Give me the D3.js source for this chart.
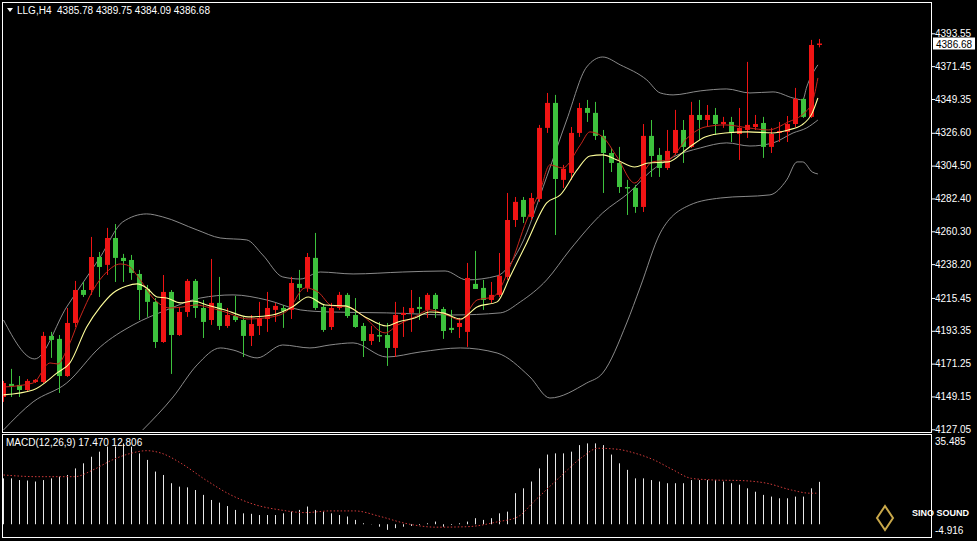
<!DOCTYPE html>
<html><head><meta charset="utf-8">
<script src="https://cdn.jsdelivr.net/npm/d3@7"></script>
<style>body{margin:0;background:#000;overflow:hidden}svg{display:block}text{font-family:"Liberation Sans",Arial,sans-serif}</style>
</head><body><svg id="c" width="977" height="541"></svg>
<script>
// OHLC candles (red = rising, green = falling)
const candles = [
[4148.8,4159.6,4145.5,4158.2],[4157.6,4167.7,4148.8,4156.2],[4156.9,4162.9,4148.8,4153.5],[4153.5,4160.9,4152.2,4159.6],
[4158.9,4160.9,4158.2,4160.3],[4158.9,4192.6,4158.2,4189.9],[4189.9,4192.6,4175.1,4187.2],[4187.9,4190.5,4151.5,4162.9],
[4162.9,4208.7,4162.3,4198.6],[4198.6,4226.9,4195.9,4220.8],[4220.8,4226.2,4216.1,4217.5],[4220.8,4256.5,4217.5,4243.0],
[4243.0,4246.4,4216.1,4236.3],[4237.7,4262.6,4230.9,4255.8],[4255.8,4265.2,4226.2,4242.4],[4242.4,4245.1,4226.2,4240.3],
[4241.0,4244.4,4227.6,4232.3],[4231.6,4234.3,4200.6,4220.8],[4221.5,4224.2,4202.7,4212.8],[4212.8,4215.4,4181.8,4185.8],
[4185.8,4230.9,4185.2,4219.5],[4219.5,4220.8,4164.3,4190.5],[4190.5,4209.4,4189.9,4206.0],[4206.0,4228.2,4202.7,4226.9],
[4226.9,4228.2,4202.0,4208.7],[4208.7,4214.1,4188.5,4199.3],[4200.6,4241.7,4197.3,4212.1],[4212.1,4229.6,4193.9,4196.6],
[4196.6,4208.7,4195.3,4204.0],[4203.3,4216.8,4199.3,4200.6],[4200.6,4202.7,4175.7,4189.9],[4189.9,4204.0,4183.1,4197.9],
[4196.6,4212.8,4190.5,4202.0],[4201.3,4219.5,4192.6,4208.7],[4207.4,4212.1,4199.3,4210.1],[4208.7,4210.7,4195.3,4206.7],
[4207.4,4229.6,4201.3,4225.5],[4224.9,4234.3,4214.1,4222.2],[4222.2,4245.7,4219.5,4243.0],[4242.4,4259.2,4207.4,4208.7],
[4209.4,4210.7,4192.6,4193.9],[4195.9,4212.1,4193.9,4208.7],[4208.7,4219.5,4207.4,4217.5],[4217.5,4218.8,4202.0,4203.3],
[4204.0,4215.4,4195.3,4195.9],[4196.6,4198.6,4175.7,4186.5],[4186.5,4196.6,4183.8,4191.2],[4190.5,4199.3,4185.8,4189.9],
[4190.5,4198.6,4169.7,4181.8],[4181.8,4212.8,4175.7,4204.0],[4204.0,4209.4,4189.2,4205.4],[4205.4,4220.8,4192.6,4208.7],
[4209.4,4216.1,4200.6,4208.0],[4207.4,4218.8,4202.0,4217.5],[4217.5,4218.8,4202.0,4208.0],[4208.0,4209.4,4187.9,4193.2],
[4195.3,4207.4,4191.9,4193.9],[4195.9,4202.0,4188.5,4198.6],[4192.6,4239.0,4182.5,4228.9],[4224.9,4247.1,4221.5,4221.5],
[4222.2,4227.6,4207.4,4214.1],[4214.1,4226.2,4212.1,4217.5],[4217.5,4245.7,4216.1,4230.3],[4229.6,4286.1,4227.6,4267.9],
[4267.9,4283.4,4263.2,4280.1],[4281.4,4283.4,4265.9,4270.0],[4270.0,4286.1,4267.9,4282.7],[4282.1,4331.9,4280.1,4329.9],
[4329.9,4353.4,4326.5,4346.7],[4346.7,4352.1,4257.8,4295.5],[4294.9,4305.0,4289.5,4302.3],[4299.6,4330.5,4294.9,4326.5],
[4326.5,4346.7,4323.8,4343.3],[4343.3,4348.7,4333.9,4340.0],[4340.0,4347.4,4321.8,4324.5],[4324.5,4328.5,4286.1,4313.0],
[4313.0,4316.4,4300.2,4306.3],[4306.3,4317.1,4286.1,4290.1],[4290.1,4294.9,4271.3,4289.5],[4289.5,4291.5,4272.7,4276.7],
[4276.7,4332.5,4273.3,4324.5],[4324.5,4335.2,4296.9,4311.0],[4311.7,4316.4,4296.9,4302.9],[4302.9,4328.5,4301.6,4314.4],
[4313.0,4342.0,4311.7,4328.5],[4328.5,4335.2,4306.3,4317.1],[4317.1,4347.4,4316.4,4338.6],[4338.6,4348.7,4321.8,4335.2],
[4335.2,4345.3,4330.5,4338.6],[4338.6,4343.3,4325.1,4332.5],[4332.5,4337.3,4329.9,4333.9],[4333.9,4337.3,4320.4,4326.5],
[4325.8,4343.3,4308.3,4329.9],[4328.5,4374.3,4323.1,4331.9],[4330.5,4338.6,4328.5,4332.5],[4333.2,4337.3,4309.7,4317.1],
[4317.1,4329.9,4313.0,4325.8],[4326.5,4333.9,4320.4,4327.8],[4327.2,4337.9,4320.4,4332.5],[4332.5,4356.8,4330.5,4349.4],
[4349.4,4350.0,4336.6,4337.3],[4337.3,4389.1,4336.6,4385.7],[4385.78,4389.75,4384.09,4386.68]];

// indicator lines: [bar index, price]
const bandUpper = [[0,4200.6],[3.9,4174.4],[7.9,4209.4],[12.1,4243.0],[14.9,4266.6],[17.9,4272.0],[19.9,4270.0],[24.2,4261.2],[27.1,4255.8],[30.4,4254.5],[32.4,4244.4],[34.9,4229.6],[37.1,4228.2],[39.6,4232.9],[43.7,4231.6],[49.9,4232.9],[55.2,4233.6],[57.9,4227.6],[61.7,4230.3],[64.6,4249.8],[67.9,4296.9],[70.4,4335.2],[72.9,4370.9],[74.9,4377.6],[77.1,4372.3],[80.4,4362.2],[82.1,4353.4],[83.7,4352.1],[87.1,4354.8],[90.4,4356.1],[93.3,4353.4],[96.2,4354.1],[98.7,4350.0],[99.9,4348.7],[100.4,4357.4],[101.8,4372.3]];
const bandMid = [[0,4126.6],[3.7,4145.5],[7.9,4158.2],[12.1,4182.5],[16.2,4197.3],[20.4,4207.4],[24.6,4215.4],[28.7,4217.5],[32.9,4214.1],[37.1,4207.4],[40.8,4206.0],[47.9,4205.4],[56.2,4204.0],[62.1,4205.4],[64.6,4212.8],[67.9,4227.6],[70.8,4247.8],[74.9,4272.7],[78.3,4286.8],[80.8,4300.2],[83.7,4310.3],[87.1,4316.4],[90.4,4319.8],[93.3,4317.7],[96.2,4319.8],[98.7,4326.5],[100.4,4329.9],[101.8,4335.2]];
const bandLower = [[17.4,4126.6],[21.2,4148.8],[24.2,4170.4],[27.1,4181.8],[28.7,4180.4],[31.7,4175.1],[34.9,4183.8],[38.3,4181.8],[40.8,4183.8],[43.7,4185.2],[47.9,4175.7],[52.1,4179.1],[57.1,4181.8],[61.7,4178.4],[65.8,4162.3],[68.3,4148.1],[72.9,4158.2],[74.9,4164.9],[77.9,4198.6],[79.6,4222.8],[82.1,4259.2],[85.8,4278.0],[89.6,4282.7],[95.8,4284.8],[97.9,4294.9],[99.2,4307.0],[99.9,4307.0],[101.1,4300.2],[101.8,4298.9]];
const maYellow = [[0,4150.2],[3.7,4153.5],[6.7,4165.0],[8.3,4171.7],[10.4,4195.9],[12.1,4209.4],[13.7,4218.8],[15.4,4223.5],[16.7,4224.9],[17.9,4222.2],[19.2,4216.1],[20.4,4215.4],[22.1,4212.1],[23.7,4213.4],[25.4,4210.7],[27.7,4207.4],[30.6,4202.7],[33.6,4204.0],[36.1,4209.4],[38.1,4216.1],[40.2,4210.7],[42.7,4210.1],[45.2,4202.7],[47.9,4196.6],[49.3,4199.3],[51.4,4202.0],[53.3,4206.0],[54.9,4205.4],[57.1,4201.3],[59.2,4209.4],[61.7,4212.8],[63.3,4229.6],[65.4,4252.5],[67.9,4279.4],[69.6,4284.8],[71.7,4301.6],[73.3,4311.0],[74.9,4311.7],[76.7,4308.3],[78.9,4303.6],[80.6,4306.3],[83.1,4307.0],[85.6,4316.4],[87.7,4323.8],[90.2,4326.5],[93.1,4327.2],[96.1,4326.5],[98.1,4328.5],[99.8,4331.9],[101.1,4340.0],[101.8,4350.0]];
const maRed = [[0,4155.5],[3.7,4158.2],[5.8,4171.7],[6.8,4171.0],[7.9,4180.4],[9.6,4202.7],[11.2,4220.8],[12.9,4232.9],[14.6,4238.3],[15.4,4237.7],[17.1,4227.6],[18.7,4215.4],[20.8,4208.7],[22.4,4209.4],[24.2,4210.7],[25.4,4209.4],[27.7,4206.0],[30.6,4201.3],[33.6,4202.7],[35.6,4207.4],[37.7,4222.2],[39.3,4219.5],[41.1,4210.1],[43.1,4209.4],[44.8,4204.0],[47.7,4191.9],[49.3,4197.3],[51.4,4202.7],[53.3,4207.4],[55.4,4204.0],[57.1,4200.6],[59.2,4214.1],[61.2,4216.1],[63.3,4236.3],[65.4,4267.9],[67.1,4288.1],[68.3,4305.0],[69.9,4302.9],[72.1,4318.4],[73.3,4327.2],[74.9,4323.8],[76.7,4310.3],[78.9,4292.8],[81.1,4307.0],[83.1,4308.3],[85.6,4323.8],[87.7,4330.5],[90.2,4331.9],[93.1,4329.9],[95.6,4328.5],[98.1,4333.9],[99.8,4338.6],[101.1,4347.4],[101.8,4363.5]];

const macdHist = [18.9,18.9,18.2,18.0,17.6,18.2,18.9,19.6,20.3,23.0,25.1,27.8,29.9,32.0,32.0,33.3,32.0,29.2,26.5,21.7,20.3,16.9,15.5,15.2,14.1,12.1,10.0,8.9,7.5,5.9,4.5,4.3,3.8,3.8,3.8,4.5,5.2,5.9,7.3,5.9,5.2,4.5,3.8,3.2,1.8,0.4,0.1,-1.0,-2.3,-1.6,-1.0,-0.7,-0.3,0.4,1.1,-1.0,-0.3,0.4,1.1,2.5,1.8,2.5,4.5,5.2,12.8,14.8,17.6,23.0,28.7,29.2,29.2,29.9,32.6,33.3,33.3,32.6,28.7,25.1,22.4,18.9,18.9,18.2,17.6,16.9,16.9,16.9,18.2,18.2,18.2,18.2,17.6,16.9,16.3,14.8,13.4,12.1,11.4,10.7,10.7,11.4,11.4,14.8,17.47];
const macdSignal = [[0,20.3],[4.2,19.6],[8.9,19.6],[11.2,22.4],[13.6,26.5],[15.9,29.2],[17.9,30.3],[19.8,29.2],[22.2,25.1],[25.3,18.2],[28.4,12.1],[31.5,8.0],[34.6,5.9],[37.7,4.8],[40.8,5.5],[43.9,5.5],[47.1,3.2],[50.2,0.4],[54.1,-1.2],[58.0,-1.0],[61.9,1.1],[64.2,2.9],[66.5,10.0],[69.6,19.6],[72.4,27.8],[74.3,31.3],[76.7,30.9],[79.0,29.2],[81.3,26.5],[83.7,22.4],[86.0,18.9],[89.1,18.2],[92.2,18.0],[95.4,16.9],[98.5,14.1],[100.8,12.8],[101.6,12.806]];

const priceTicks = [4393.55,4371.45,4349.35,4326.60,4304.50,4282.40,4260.30,4238.20,4215.45,4193.35,4171.25,4149.15,4127.05];
const title = "LLG,H4  4385.78 4389.75 4384.09 4386.68";
const macdTitle = "MACD(12,26,9) 17.470 12.806";

const svg = d3.select("#c");
const W = 977, H = 541;
const x = d3.scaleLinear().domain([0, 102]).range([3.5, 819.5]);
const y = d3.scaleLinear().domain([4127.05, 4393.55]).range([429.3, 33.3]);
const ym = d3.scaleLinear().domain([-4.916, 35.485]).range([536.2, 438.1]);
const RED = "#f01414", GREEN = "#3dc23d";

svg.append("rect").attr("width", W).attr("height", H).attr("fill", "#000");
svg.append("defs").append("clipPath").attr("id","cp").append("rect").attr("x",3).attr("y",3).attr("width",928).attr("height",429);
const g = svg.append("g").attr("clip-path","url(#cp)");

const line = d3.line().x(d => x(d[0])).y(d => y(d[1])).curve(d3.curveMonotoneX);
[[bandUpper,"#9a9a9a",0.9],[bandMid,"#9a9a9a",0.9],[bandLower,"#9a9a9a",0.9]].forEach(([d,c,w]) =>
  g.append("path").attr("d", line(d)).attr("fill","none").attr("stroke",c).attr("stroke-width",w));

const cg = g.append("g");
candles.forEach((c,i) => {
  const [o,h,l,cl] = c; const up = cl >= o; const col = up ? RED : GREEN;
  cg.append("line").attr("x1",x(i)).attr("x2",x(i)).attr("y1",y(h)).attr("y2",y(l)).attr("stroke",col).attr("stroke-width",1);
  const t = y(Math.max(o,cl)), b = y(Math.min(o,cl));
  cg.append("rect").attr("x",x(i)-2.5).attr("width",5).attr("y",t).attr("height",Math.max(1.5,b-t)).attr("fill",col);
});
g.append("path").attr("d", line(maRed)).attr("fill","none").attr("stroke","#c8261c").attr("stroke-width",1);
g.append("path").attr("d", line(maYellow)).attr("fill","none").attr("stroke","#ffff9a").attr("stroke-width",1.1);

// frames
svg.append("rect").attr("x",2.5).attr("y",2.5).attr("width",929).attr("height",430).attr("fill","none").attr("stroke","#fff");
svg.append("rect").attr("x",2.5).attr("y",434.5).attr("width",929).attr("height",103).attr("fill","none").attr("stroke","#fff");

// price axis
const ax = svg.append("g").attr("transform","translate(932,0)").call(d3.axisRight(y).tickValues(priceTicks).tickFormat(d3.format(".2f")).tickSize(3));
ax.select(".domain").remove();
ax.selectAll("line").attr("stroke","#fff");
ax.selectAll("text").attr("fill","#fff").attr("font-size",10).attr("x",3);
const last = candles[candles.length-1][3];
svg.append("rect").attr("x",933).attr("y",y(last)-6).attr("width",42).attr("height",12).attr("fill","#fff");
svg.append("text").attr("x",936).attr("y",y(last)+4).attr("font-size",10).attr("fill","#000").text(d3.format(".2f")(last));

svg.append("path").attr("d","M7,8 L13,8 L10,12 Z").attr("fill","#fff");
svg.append("text").attr("x",17).attr("y",14).attr("font-size",10).attr("fill","#fff").attr("xml:space","preserve").text(title);

// MACD
const mg = svg.append("g");
macdHist.forEach((v,i) => {
  mg.append("line").attr("x1",x(i)).attr("x2",x(i)).attr("y1",ym(0)).attr("y2",ym(v)).attr("stroke","#e8e8e8").attr("stroke-width",1);
});
const mline = d3.line().x(d => x(d[0])).y(d => ym(d[1])).curve(d3.curveMonotoneX);
mg.append("path").attr("d", mline(macdSignal)).attr("fill","none").attr("stroke","#d03a3a").attr("stroke-width",1).attr("stroke-dasharray","1.5,2");
svg.append("text").attr("x",6).attr("y",446).attr("font-size",10).attr("fill","#fff").text(macdTitle);
svg.append("text").attr("x",935).attr("y",445).attr("font-size",10).attr("fill","#fff").text("35.485");
svg.append("text").attr("x",935).attr("y",534).attr("font-size",10).attr("fill","#fff").text("-4.916");
svg.append("text").attr("x",912).attr("y",516).attr("font-size",9).attr("font-weight","bold").attr("fill","#fff").text("SINO SOUND");
svg.append("path").attr("d","M885,506 L893,518 L885,530 L877,518 Z").attr("fill","none").attr("stroke","#c9a84a").attr("stroke-width",2);
</script></body></html>
